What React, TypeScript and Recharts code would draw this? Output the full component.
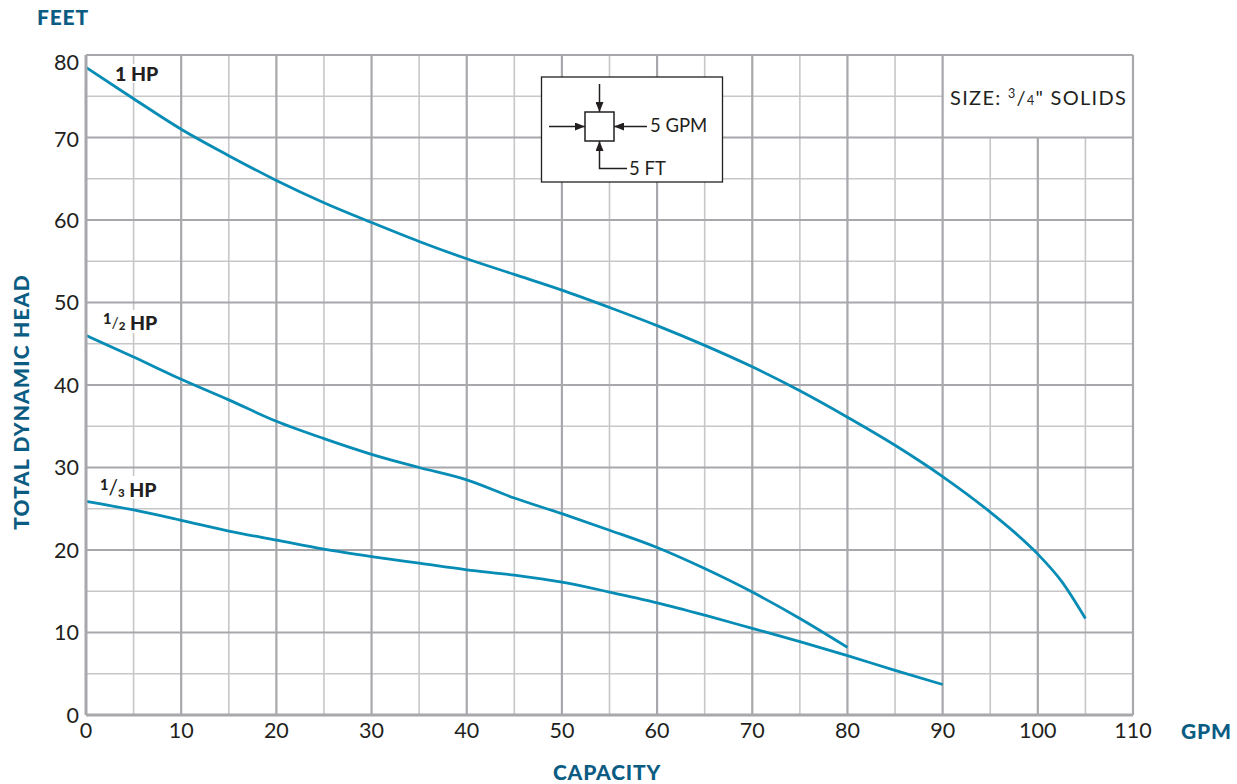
import React from "react";
import { LineChart, Line, XAxis, YAxis, ReferenceLine } from "recharts";

// ---- data ----
const hp1X = [0, 5, 10, 15, 20, 25, 30, 35, 40, 45, 50, 55, 60, 65, 70, 75, 80, 85, 90, 95, 97.5, 100, 102.5, 105];
const hp1Y = [78.5, 74.7, 71.0, 67.8, 64.8, 62.1, 59.7, 57.4, 55.3, 53.4, 51.5, 49.4, 47.2, 44.8, 42.2, 39.3, 36.1, 32.7, 28.9, 24.6, 22.2, 19.5, 16.2, 11.7];

const hpHalfX = [0, 5, 10, 15, 20, 25, 30, 35, 40, 45, 50, 55, 60, 65, 70, 75, 80];
const hpHalfY = [46.0, 43.4, 40.7, 38.2, 35.6, 33.5, 31.6, 30.0, 28.5, 26.3, 24.4, 22.4, 20.3, 17.75, 14.9, 11.7, 8.2];

const hpThirdX = [0, 5, 10, 15, 20, 25, 30, 35, 40, 45, 50, 55, 60, 65, 70, 75, 80, 85, 90];
const hpThirdY = [25.9, 24.85, 23.6, 22.3, 21.2, 20.1, 19.2, 18.4, 17.6, 16.95, 16.1, 14.9, 13.6, 12.1, 10.5, 8.9, 7.2, 5.4, 3.7];

const xTicks = [0, 10, 20, 30, 40, 50, 60, 70, 80, 90, 100, 110];
const yTicks = [0, 10, 20, 30, 40, 50, 60, 70, 80];
const majorX = [10, 20, 30, 40, 50, 60, 70, 80, 90, 110];
const majorXShort = [100];
const minorX = [5, 15, 25, 35, 45, 55, 65, 75, 85];
const minorXShort = [95, 105];
const majorY = [10, 20, 30, 40, 50, 60, 70, 80];
const minorY = [5, 15, 25, 35, 45, 55, 65];
const minorYShort = [75];

const zip = (xs: number[], ys: number[]) => xs.map((x, i) => ({ x, y: ys[i] }));
const hp1Data = zip(hp1X, hp1Y);
const hpHalfData = zip(hpHalfX, hpHalfY);
const hpThirdData = zip(hpThirdX, hpThirdY);

const CURVE = "#078cb5";
const MAJOR = "#a8a8ac";
const MINOR = "#c7c7ca";
const TEXT = "#231f20";
const BLUE = "#0b5c83";
const FONT = "Lato, 'Open Sans', sans-serif";

const YTick = (props: any) => {
  const { x, y, payload } = props;
  const shift = payload.value === 80 ? 7 : payload.value === 70 ? 2 : 0;
  return (
    <text x={x} y={y + shift} dy="0.355em" textAnchor="end" fill={TEXT} fontSize={21.5} fontFamily={FONT}>
      {payload.value}
    </text>
  );
};

export default function App() {
  return (
    <div style={{ position: "absolute", left: 0, top: 0, width: 1237, height: 784, background: "#fff" }}>
      <LineChart width={1237} height={784} margin={{ top: 55, right: 104, bottom: 39, left: 46 }}>
        <XAxis
          type="number"
          dataKey="x"
          domain={[0, 110]}
          ticks={xTicks}
          allowDataOverflow
          height={30}
          tickLine={false}
          tickSize={0}
          tickMargin={8}
          axisLine={{ stroke: MAJOR, strokeWidth: 3 }}
          tick={{ fill: TEXT, fontSize: 21.5, fontFamily: FONT }}
          interval={0}
        />
        <YAxis
          type="number"
          dataKey="y"
          domain={[0, 80]}
          ticks={yTicks}
          allowDataOverflow
          width={40}
          tickLine={false}
          tickSize={0}
          tickMargin={7}
          axisLine={{ stroke: MAJOR, strokeWidth: 3 }}
          tick={<YTick />}
          interval={0}
        />
        {minorX.map((v) => (
          <ReferenceLine key={"mx" + v} x={v} stroke={MINOR} strokeWidth={1.6} />
        ))}
        {minorXShort.map((v) => (
          <ReferenceLine key={"mxs" + v} segment={[{ x: v, y: 0 }, { x: v, y: 70 }]} stroke={MINOR} strokeWidth={1.6} />
        ))}
        {minorY.map((v) => (
          <ReferenceLine key={"my" + v} y={v} stroke={MINOR} strokeWidth={1.6} />
        ))}
        {minorYShort.map((v) => (
          <ReferenceLine key={"mys" + v} segment={[{ x: 0, y: v }, { x: 90, y: v }]} stroke={MINOR} strokeWidth={1.6} />
        ))}
        {majorX.map((v) => (
          <ReferenceLine key={"Mx" + v} x={v} stroke={MAJOR} strokeWidth={2.2} />
        ))}
        {majorXShort.map((v) => (
          <ReferenceLine key={"Mxs" + v} segment={[{ x: v, y: 0 }, { x: v, y: 70 }]} stroke={MAJOR} strokeWidth={2.2} />
        ))}
        {majorY.map((v) => (
          <ReferenceLine key={"My" + v} y={v} stroke={MAJOR} strokeWidth={2.2} />
        ))}
        <Line data={hp1Data} dataKey="y" type="monotone" stroke={CURVE} strokeWidth={2.8} dot={false} isAnimationActive={false} />
        <Line data={hpHalfData} dataKey="y" type="monotone" stroke={CURVE} strokeWidth={2.8} dot={false} isAnimationActive={false} />
        <Line data={hpThirdData} dataKey="y" type="monotone" stroke={CURVE} strokeWidth={2.8} dot={false} isAnimationActive={false} />
      </LineChart>

      <svg width={1237} height={784} style={{ position: "absolute", left: 0, top: 0, pointerEvents: "none" }}>
        <defs>
          <marker id="ah" markerWidth="10" markerHeight="8" refX="10" refY="4" orient="auto" markerUnits="userSpaceOnUse">
            <path d="M0,0 L10,4 L0,8 Z" fill={TEXT} />
          </marker>
        </defs>
        {/* titles */}
        <text x={37} y={25} fill={BLUE} fontSize={21} fontWeight={900} fontFamily={FONT} letterSpacing={0.8}>FEET</text>
        <text x={1181} y={739} fill={BLUE} fontSize={21} fontWeight={900} fontFamily={FONT} letterSpacing={0.8}>GPM</text>
        <text x={607} y={780} textAnchor="middle" fill={BLUE} fontSize={21} fontWeight={900} fontFamily={FONT} letterSpacing={0.8}>CAPACITY</text>
        <text
          x={0}
          y={0}
          transform="translate(29,402) rotate(-90)"
          textAnchor="middle"
          fill={BLUE}
          fontSize={21}
          fontWeight={900}
          fontFamily={FONT}
          letterSpacing={1.2}
        >
          TOTAL DYNAMIC HEAD
        </text>

        {/* curve labels */}
        <rect x={114} y={64} width={50} height={19} fill="#fff" />
        <text x={115} y={81} fill={TEXT} fontSize={19.5} fontWeight={900} fontFamily={FONT}>1 HP</text>

        <rect x={100} y={310} width={66} height={23} fill="#fff" />
        <text x={103} y={330} fill={TEXT} fontWeight={900} fontFamily={FONT}>
          <tspan fontSize={14.5} dy={-6}>1</tspan>
          <tspan fontSize={16} dy={4} fontWeight={400}>/</tspan>
          <tspan fontSize={11.5} dy={2}>2</tspan>
          <tspan fontSize={19.5} dy={0}> HP</tspan>
        </text>

        <rect x={97} y={476} width={66} height={23} fill="#fff" />
        <text x={100} y={497} fill={TEXT} fontWeight={900} fontFamily={FONT}>
          <tspan fontSize={14.5} dy={-7}>1</tspan>
          <tspan fontSize={21} dy={5} fontWeight={400}>/</tspan>
          <tspan fontSize={11.5} dy={2}>3</tspan>
          <tspan fontSize={19.5} dy={0}> HP</tspan>
        </text>

        {/* size note */}
        <text x={950} y={105} fill={TEXT} fontSize={20} fontFamily={FONT} letterSpacing={1.3}>
          SIZE: <tspan fontSize={12.5} dy={-7}>3</tspan>
          <tspan dy={7}>/</tspan>
          <tspan fontSize={12.5}>4</tspan>
          <tspan>" SOLIDS</tspan>
        </text>

        {/* scale legend */}
        <rect x={541.5} y={77} width={181} height={105} fill="#fff" stroke={TEXT} strokeWidth={1.3} />
        <rect x={585} y={112} width={29} height={29} fill="#fff" stroke={TEXT} strokeWidth={1.5} />
        <line x1={599.5} y1={84} x2={599.5} y2={112} stroke={TEXT} strokeWidth={1.5} markerEnd="url(#ah)" />
        <line x1={549} y1={126.5} x2={585} y2={126.5} stroke={TEXT} strokeWidth={1.5} markerEnd="url(#ah)" />
        <line x1={647} y1={126.5} x2={614} y2={126.5} stroke={TEXT} strokeWidth={1.5} markerEnd="url(#ah)" />
        <polyline points="627,168.5 599.5,168.5 599.5,141" fill="none" stroke={TEXT} strokeWidth={1.5} markerEnd="url(#ah)" />
        <text x={650} y={132} fill={TEXT} fontSize={18.5} fontFamily={FONT}>5 GPM</text>
        <text x={629} y={175} fill={TEXT} fontSize={18.5} fontFamily={FONT}>5 FT</text>
      </svg>
    </div>
  );
}
